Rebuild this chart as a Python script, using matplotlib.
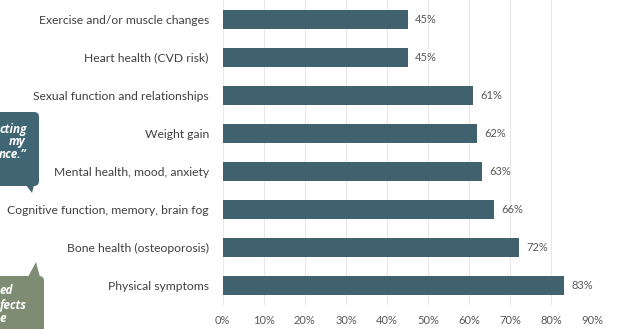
import matplotlib
matplotlib.use("Agg")
import matplotlib.pyplot as plt
from matplotlib.patches import FancyBboxPatch, Polygon

# data, bottom to top
categories = ["Physical symptoms", "Bone health (osteoporosis)",
              "Cognitive function, memory, brain fog", "Mental health, mood, anxiety",
              "Weight gain", "Sexual function and relationships",
              "Heart health (CVD risk)", "Exercise and/or muscle changes"]
values = [83, 72, 66, 63, 62, 61, 45, 45]
ticks = [0, 10, 20, 30, 40, 50, 60, 70, 80, 90]

bar_color = "#3f626e"
plt.rcParams['font.family'] = ['Lato', 'DejaVu Sans']

fig = plt.figure(figsize=(6.18, 3.29), dpi=100)
W, H = 618, 329
ax = fig.add_axes([222.7 / W, 1 - 304.5 / H, (592.5 - 222.7) / W, 304.5 / H])

ypos = list(range(len(categories)))
ax.barh(ypos, values, height=0.5, color=bar_color, zorder=3)
for y, v in zip(ypos, values):
    ax.text(v + 1.8, y, "{}%".format(v), va='center', ha='left',
            fontsize=8, color='#595959')

ax.set_xlim(0, 90)
ax.set_ylim(-0.5, len(categories) - 0.5)
ax.set_xticks(ticks)
ax.set_xticklabels(["{}%".format(t) for t in ticks], fontsize=8, color='#595959')
ax.set_yticks(ypos)
ax.set_yticklabels(categories, fontsize=8.7, color='#404040')
ax.tick_params(axis='both', length=0)
ax.tick_params(axis='y', pad=10)
ax.tick_params(axis='x', pad=7.5)
ax.grid(axis='x', color='#e8e8e8', linewidth=0.8, zorder=0)
for s in ax.spines.values():
    s.set_visible(False)

# overlay in pixel coords for the cut-off callouts on the left
ov = fig.add_axes([0, 0, 1, 1], zorder=5)
ov.set_xlim(0, W)
ov.set_ylim(H, 0)
ov.axis('off')
ov.patch.set_alpha(0)

teal = "#416673"
ov.add_patch(FancyBboxPatch((-20, 112), 59, 74, boxstyle="round,pad=0,rounding_size=5",
                            fc=teal, ec='none'))
ov.add_patch(Polygon([(26, 185), (34, 185), (32, 193)], closed=True, fc=teal, ec='none'))
for x, y, s in [(-1, 129, "cting"), (9, 142, "my"), (-1, 155, "nce.\u201d")]:
    ov.text(x, y, s, color='white', fontsize=8.5, fontweight='bold', style='italic',
            va='center', ha='left', family=['Open Sans', 'DejaVu Sans'])

olive = "#7d8c72"
ov.add_patch(FancyBboxPatch((-20, 276), 64, 70, boxstyle="round,pad=0,rounding_size=5",
                            fc=olive, ec='none'))
ov.add_patch(Polygon([(28, 277), (40, 277), (36, 262)], closed=True, fc=olive, ec='none'))
for x, y, s in [(-1, 290, "ed"), (-1, 305, "fects"), (-1, 319, "e")]:
    ov.text(x, y, s, color='white', fontsize=8.5, fontweight='bold', style='italic',
            va='center', ha='left', family=['Open Sans', 'DejaVu Sans'])

fig.savefig("out.png", dpi=100)
